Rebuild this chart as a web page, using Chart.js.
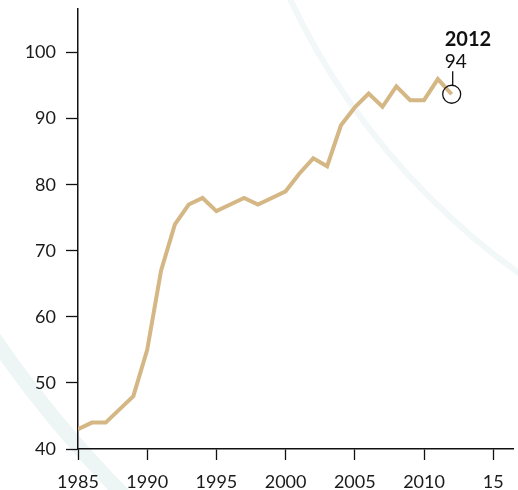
<!DOCTYPE html>
<html>
<head>
<meta charset="utf-8">
<script src="https://cdn.jsdelivr.net/npm/chart.js@4/dist/chart.umd.min.js"></script>
<style>
  html, body { margin: 0; padding: 0; background: #ffffff; }
  #wrap { width: 518px; height: 490px; position: relative; }
</style>
</head>
<body>
<div id="wrap"><canvas id="c"></canvas></div>
<script>
// ---- data ----
const years = [1985, 1986, 1987, 1988, 1989, 1990, 1991, 1992, 1993, 1994,
               1995, 1996, 1997, 1998, 1999, 2000, 2001, 2002, 2003, 2004,
               2005, 2006, 2007, 2008, 2009, 2010, 2011, 2012];
const values = [43, 44, 44, 46, 48, 55, 67, 74, 77, 78,
                76, 77, 78, 77, 78, 79, 81.7, 84, 82.8, 89,
                91.7, 93.8, 91.8, 94.9, 92.8, 92.8, 96, 93.7];
const yTicks = [40, 50, 60, 70, 80, 90, 100];
const xTicks = [1985, 1990, 1995, 2000, 2005, 2010, 2015];
const xTickLabels = ['1985', '1990', '1995', '2000', '2005', '2010', '15'];

const points = years.map((y, i) => ({ x: y, y: values[i] }));
const lastIdx = values.length - 1;

const FONT = 'Lato, "Open Sans", sans-serif';

const bgPlugin = {
  id: 'bg',
  beforeDraw(chart) {
    const ctx = chart.ctx;
    ctx.save();
    ctx.fillStyle = '#ffffff';
    ctx.fillRect(0, 0, chart.width, chart.height);
    ctx.strokeStyle = '#f2f8f8';
    ctx.lineWidth = 6;
    ctx.beginPath();
    ctx.arc(931, -304, 709, 0, Math.PI * 2);
    ctx.stroke();
    ctx.strokeStyle = '#eef6f5';
    ctx.lineWidth = 15;
    ctx.beginPath();
    ctx.arc(931, -304, 1136, 0, Math.PI * 2);
    ctx.stroke();
    ctx.restore();
  }
};

const annotPlugin = {
  id: 'annot',
  afterDatasetsDraw(chart) {
    const ctx = chart.ctx;
    const xs = chart.scales.x, ys = chart.scales.y;
    const px = xs.getPixelForValue(years[lastIdx]);
    const py = ys.getPixelForValue(values[lastIdx]);
    ctx.save();
    ctx.strokeStyle = '#111';
    ctx.lineWidth = 1.3;
    ctx.beginPath();
    ctx.moveTo(px + 1, py - 9);
    ctx.lineTo(px + 1, py - 23);
    ctx.stroke();
    ctx.fillStyle = '#111';
    ctx.textAlign = 'left';
    ctx.textBaseline = 'alphabetic';
    ctx.font = 'bold 20px ' + FONT;
    ctx.fillText(String(years[lastIdx]), px - 7, py - 48);
    ctx.font = '19px ' + FONT;
    ctx.fillText(String(Math.round(values[lastIdx])), px - 7, py - 26);
    ctx.restore();
  }
};

new Chart(document.getElementById('c'), {
  type: 'line',
  data: {
    datasets: [{
      data: points,
      borderColor: '#d4b784',
      borderWidth: 4,
      tension: 0,
      borderJoinStyle: 'miter',
      fill: false,
      pointRadius: values.map((v, i) => i === lastIdx ? 9 : 0),
      pointBackgroundColor: 'rgba(0,0,0,0)',
      pointBorderColor: '#111',
      pointBorderWidth: 1.3,
      pointHoverRadius: 0
    }]
  },
  options: {
    responsive: true,
    maintainAspectRatio: false,
    animation: false,
    events: [],
    layout: { autoPadding: false, padding: { top: 9, right: 5, left: 0, bottom: 0 } },
    plugins: { legend: { display: false }, tooltip: { enabled: false } },
    scales: {
      x: {
        type: 'linear',
        min: 1985,
        max: 2016.43,
        afterFit(s) { s.height = 41; s.paddingLeft = 0; s.paddingRight = 0; },
        afterBuildTicks(s) { s.ticks = xTicks.map(v => ({ value: v })); },
        grid: { drawOnChartArea: false, drawTicks: true, tickLength: 11, tickColor: '#111', tickWidth: 1.3 },
        border: { display: true, color: '#111', width: 1.5 },
        ticks: {
          autoSkip: false,
          maxRotation: 0,
          padding: 11,
          color: '#1a1a1a',
          font: { family: FONT, size: 18 },
          callback(v) { const i = xTicks.indexOf(v); return i >= 0 ? xTickLabels[i] : ''; }
        }
      },
      y: {
        type: 'linear',
        min: 40,
        max: 106.6,
        afterFit(s) { s.width = 78; s.paddingTop = 0; s.paddingBottom = 0; },
        afterBuildTicks(s) { s.ticks = yTicks.map(v => ({ value: v })); },
        grid: { drawOnChartArea: false, drawTicks: true, tickLength: 12, tickColor: '#111', tickWidth: 1.3 },
        border: { display: true, color: '#111', width: 1.5 },
        ticks: {
          padding: 10,
          color: '#1a1a1a',
          font: { family: FONT, size: 18 }
        }
      }
    }
  },
  plugins: [bgPlugin, annotPlugin]
});
</script>
</body>
</html>
